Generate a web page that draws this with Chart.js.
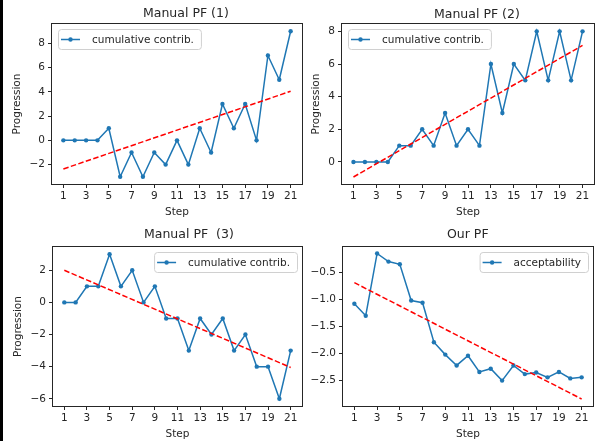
<!DOCTYPE html>
<html>
<head>
<meta charset="utf-8">
<script src="https://cdn.jsdelivr.net/npm/chart.js@4.4.0/dist/chart.umd.min.js"></script>
<style>
body { margin: 0; background: #fff; width: 598px; height: 441px; overflow: hidden; position: relative; }
canvas { position: absolute; left: 0; top: 0; }
#bar { position: absolute; left: 0; top: 0; width: 3px; height: 441px; background: #000; }
</style>
</head>
<body>
<div id="bar"></div>
<canvas id="c1" width="598" height="441"></canvas>
<canvas id="c2" width="598" height="441"></canvas>
<canvas id="c3" width="598" height="441"></canvas>
<canvas id="c4" width="598" height="441"></canvas>
<script>
// data
var steps = [1,2,3,4,5,6,7,8,9,10,11,12,13,14,15,16,17,18,19,20,21];
var xTicks = [1,3,5,7,9,11,13,15,17,19,21];

var pf1 = [0,0,0,0,1,-3,-1,-3,-1,-2,0,-2,1,-1,3,1,3,0,7,5,9];
var pf2 = [0,0,0,0,1,1,2,1,3,1,2,1,6,3,6,5,8,5,8,5,8];
var pf3 = [0,0,1,1,3,1,2,0,1,-1,-1,-3,-1,-2,-1,-3,-2,-4,-4,-6,-3];
var ourPF = [-1.08,-1.30,-0.15,-0.30,-0.35,-1.02,-1.06,-1.79,-2.02,-2.22,-2.04,-2.34,-2.28,-2.50,-2.22,-2.38,-2.35,-2.44,-2.34,-2.46,-2.44];

// red dashed fit lines, values at step 1 and step 21
var trend1 = [-2.36, 4.05];
var trend2 = [-0.92, 7.14];
var trend3 = [2.0, -4.05];
var trend4 = [-0.69, -2.84];

var yTicks1 = [-2,0,2,4,6,8];
var yTicks2 = [0,2,4,6,8];
var yTicks3 = [-6,-4,-2,0,2];
var yTicks4 = [-2.5,-2.0,-1.5,-1.0,-0.5];

var titles = ['Manual PF (1)', 'Manual PF (2)', 'Manual PF  (3)', 'Our PF'];

Chart.defaults.font.family = "'DejaVu Sans', sans-serif";
Chart.defaults.font.size = 10.5;
Chart.defaults.color = '#262626';

var BLUE = '#1f77b4';
var INK = '#262626';
var XH = 35; // height of x axis block (ticks + title)

function fmt(v, dec) {
  var s = Math.abs(v).toFixed(dec);
  return (v < 0 ? '\u2212' : '') + s;
}

var decor = {
  id: 'decor',
  afterDraw: function(chart) {
    var o = chart.options.plugins.decor;
    var a = chart.chartArea;
    var ctx = chart.ctx;
    ctx.save();
    // frame
    ctx.strokeStyle = INK;
    ctx.lineWidth = 1;
    ctx.strokeRect(Math.round(a.left) - 0.5, Math.round(a.top) - 0.5, Math.round(a.right - a.left) + 1, Math.round(a.bottom - a.top) + 1);
    // title
    ctx.fillStyle = INK;
    ctx.font = "12.5px 'DejaVu Sans'";
    ctx.textAlign = 'left';
    ctx.textBaseline = 'middle';
    ctx.fillText(o.title, o.titleX, o.titleY);
    // legend
    var label = chart.data.datasets[0].label;
    ctx.font = "10.5px 'DejaVu Sans'";
    var tw = ctx.measureText(label).width;
    var w = 3 + 19 + 12 + tw + 7, h = 20;
    var x = o.legendRight ? a.right - 5 - w : a.left + 6;
    var y = a.top + 5;
    ctx.beginPath();
    ctx.roundRect(x + 0.5, y + 0.5, w, h, 3);
    ctx.fillStyle = 'rgba(255,255,255,0.8)';
    ctx.fill();
    ctx.strokeStyle = '#d0d0d0';
    ctx.stroke();
    ctx.strokeStyle = BLUE;
    ctx.lineWidth = 1.5;
    ctx.beginPath();
    ctx.moveTo(x + 3, y + h / 2 + 0.5);
    ctx.lineTo(x + 22, y + h / 2 + 0.5);
    ctx.stroke();
    ctx.fillStyle = BLUE;
    ctx.beginPath();
    ctx.arc(x + 12.5, y + h / 2 + 0.5, 2.2, 0, Math.PI * 2);
    ctx.fill();
    ctx.fillStyle = INK;
    ctx.fillText(label, x + 34, y + h / 2 + 1);
    ctx.restore();
  }
};

function makeChart(id, c) {
  var line = steps.map(function(s, i) { return {x: s, y: c.values[i]}; });
  var fit = [{x: steps[0], y: c.trend[0]}, {x: steps[steps.length - 1], y: c.trend[1]}];
  return new Chart(document.getElementById(id), {
    type: 'line',
    data: {
      datasets: [
        { label: c.label, data: line, borderColor: BLUE, backgroundColor: BLUE, borderWidth: 1.5,
          pointRadius: 2.2, pointBorderWidth: 0, pointBackgroundColor: BLUE, tension: 0, order: 1 },
        { label: 'fit', data: fit, borderColor: '#ff0000', borderWidth: 1.5, borderDash: [5.5, 2.4],
          pointRadius: 0, tension: 0, order: 0 }
      ]
    },
    options: {
      responsive: false,
      animation: false,
      events: [],
      layout: { padding: { left: c.padLeft, top: c.top, right: 598 - c.right, bottom: 441 - c.bottom - XH } },
      plugins: {
        legend: { display: false },
        title: { display: false },
        tooltip: { enabled: false },
        decor: { title: c.title, titleX: c.titleX, titleY: c.titleY, legendRight: c.legendRight }
      },
      scales: {
        x: {
          type: 'linear', min: 0, max: 22,
          afterBuildTicks: function(s) { s.ticks = xTicks.map(function(v) { return {value: v}; }); },
          afterFit: function(s) { s.height = XH; },
          ticks: { padding: 2, color: INK, maxRotation: 0, autoSkip: false, callback: function(v) { return String(v); } },
          grid: { drawOnChartArea: false, drawTicks: true, tickLength: 4, color: INK },
          border: { display: false },
          title: { display: true, text: 'Step', padding: 0, color: INK }
        },
        y: {
          type: 'linear', min: c.yMin, max: c.yMax,
          afterBuildTicks: function(s) { s.ticks = c.yTicks.map(function(v) { return {value: v}; }); },
          afterFit: function(s) { s.width = c.left - c.padLeft; },
          ticks: { padding: 3, color: INK, autoSkip: false, callback: function(v) { return fmt(v, c.dec); } },
          grid: { drawOnChartArea: false, drawTicks: true, tickLength: 4, color: INK },
          border: { display: false },
          title: { display: c.yTitle, text: 'Progression', padding: 0, color: INK }
        }
      }
    },
    plugins: [decor]
  });
}

makeChart('c1', { values: pf1, trend: trend1, yMin: -3.6, yMax: 9.6, yTicks: yTicks1, dec: 0,
  label: 'cumulative contrib.', title: titles[0], titleX: 143, titleY: 14, legendRight: false,
  padLeft: 11, left: 52, right: 302, top: 24, bottom: 184, yTitle: true });
makeChart('c2', { values: pf2, trend: trend2, yMin: -1.35, yMax: 8.45, yTicks: yTicks2, dec: 0,
  label: 'cumulative contrib.', title: titles[1], titleX: 434, titleY: 15, legendRight: false,
  padLeft: 310, left: 342, right: 594, top: 24, bottom: 184, yTitle: true });
makeChart('c3', { values: pf3, trend: trend3, yMin: -6.45, yMax: 3.45, yTicks: yTicks3, dec: 0,
  label: 'cumulative contrib.', title: titles[2], titleX: 144, titleY: 235, legendRight: true,
  padLeft: 12, left: 53, right: 302, top: 247, bottom: 406, yTitle: true });
makeChart('c4', { values: ourPF, trend: trend4, yMin: -2.97, yMax: -0.03, yTicks: yTicks4, dec: 1,
  label: 'acceptability', title: titles[3], titleX: 447, titleY: 235, legendRight: true,
  padLeft: 300, left: 343, right: 593, top: 247, bottom: 406, yTitle: false });
</script>
</body>
</html>
